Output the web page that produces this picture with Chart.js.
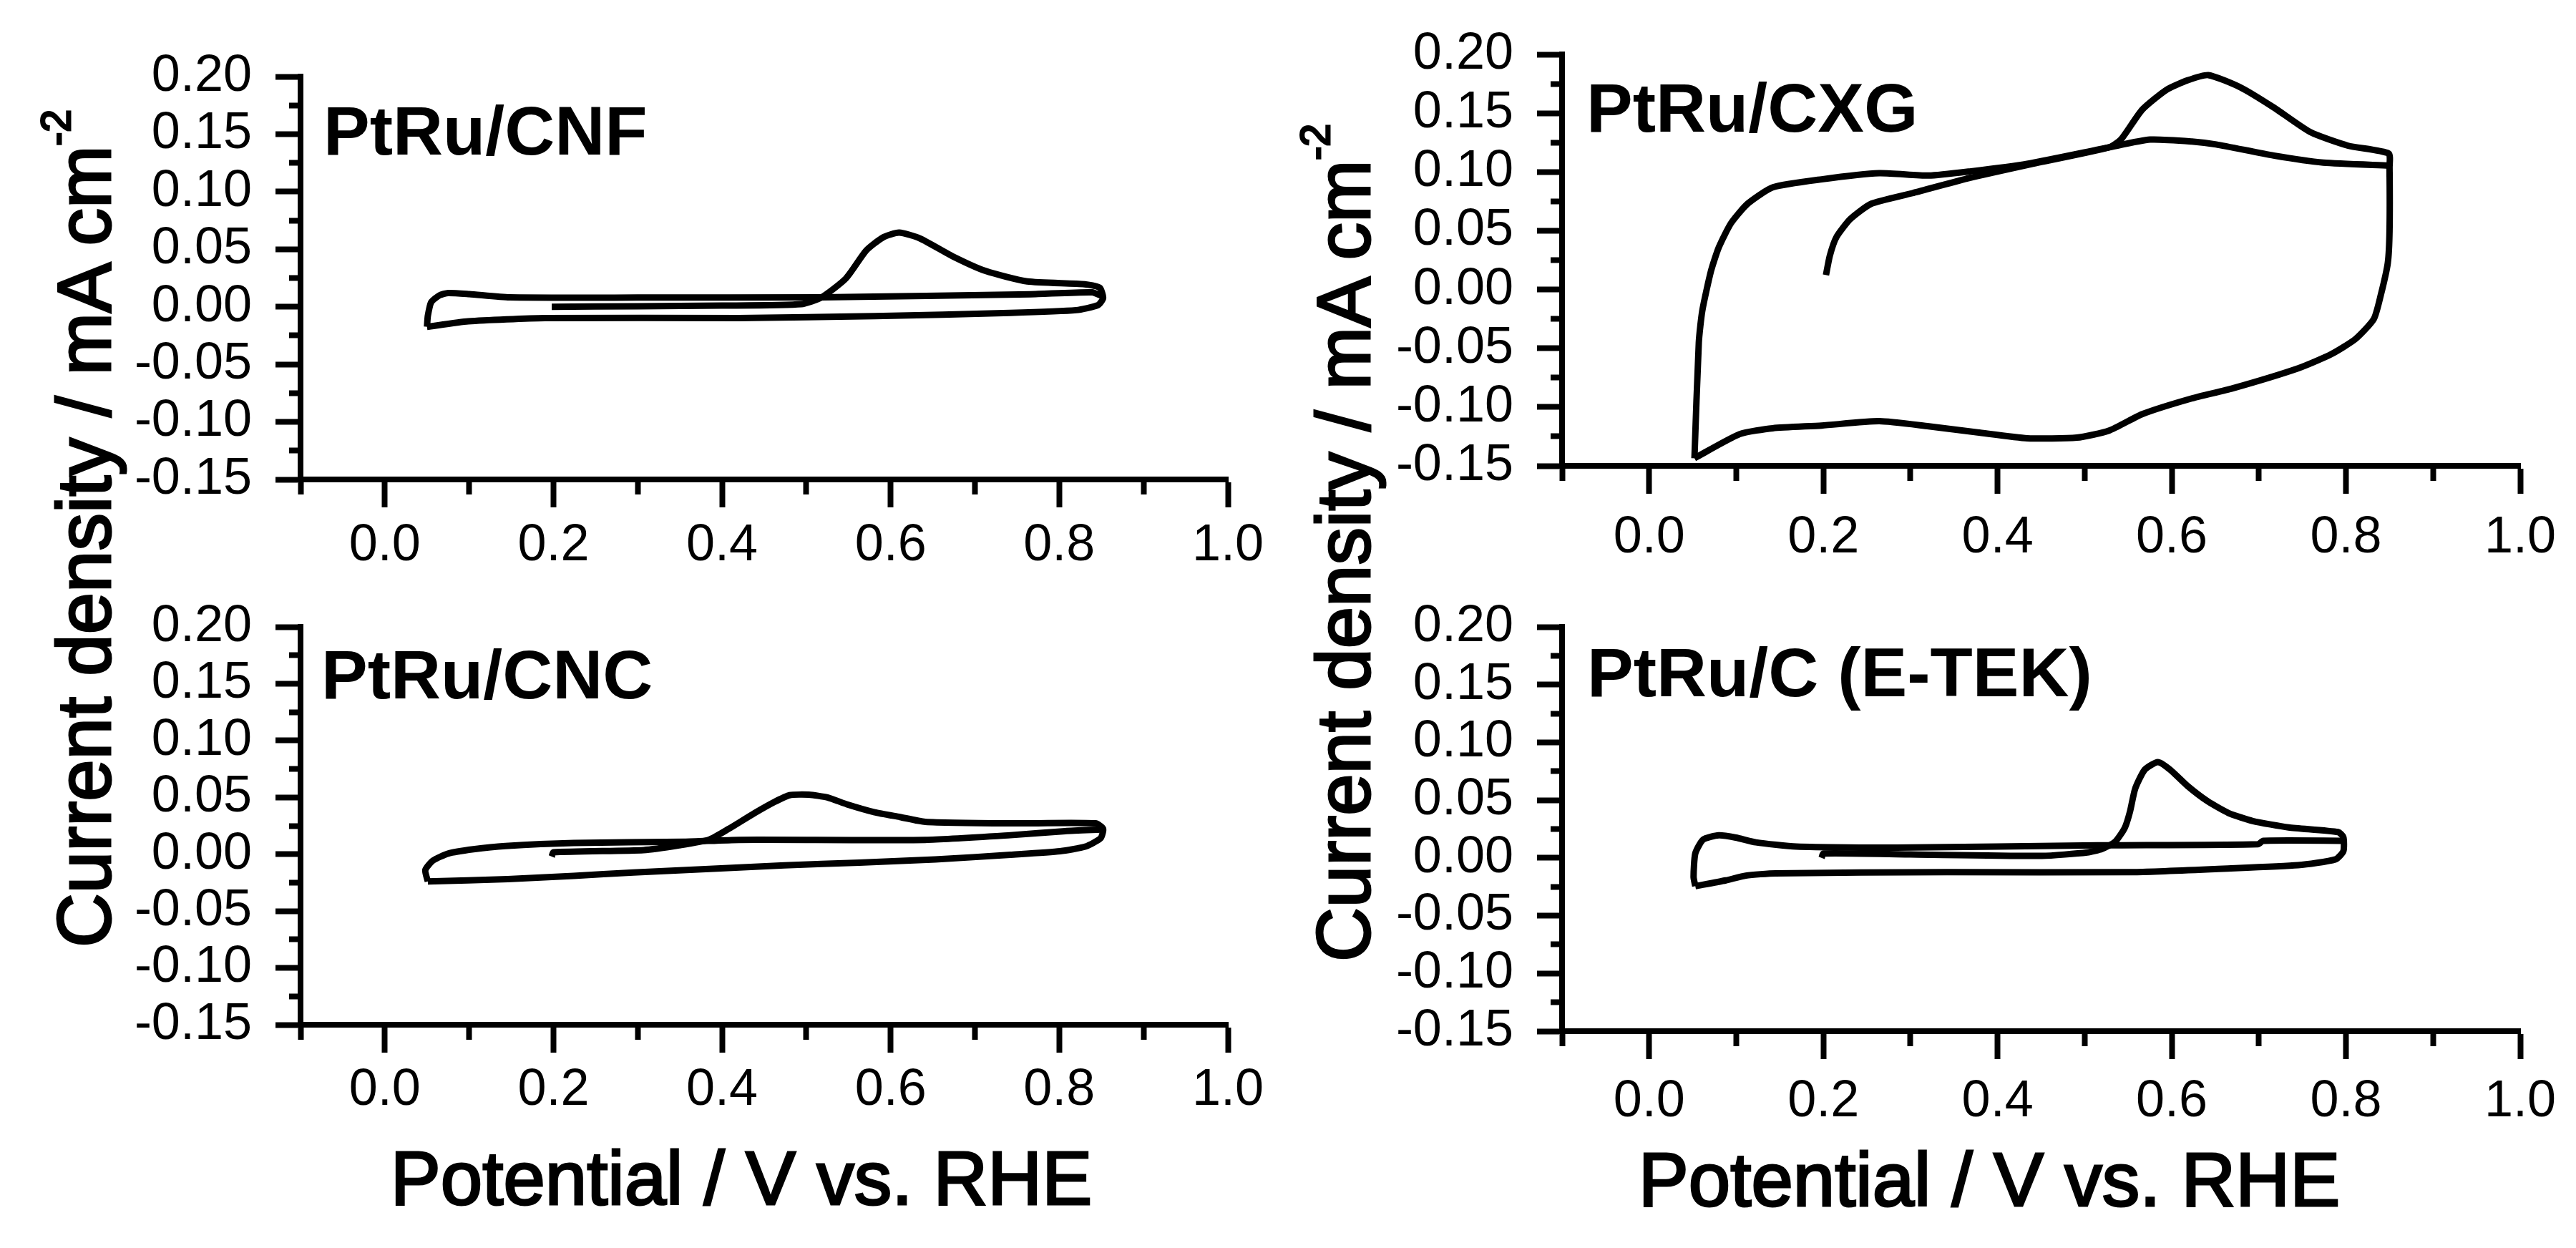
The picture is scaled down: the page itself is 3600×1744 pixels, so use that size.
<!DOCTYPE html>
<html>
<head>
<meta charset="utf-8">
<title>CO stripping voltammograms</title>
<script src="https://cdn.jsdelivr.net/npm/chart.js@4.4.1/dist/chart.umd.min.js"></script>
<style>
  html, body { margin: 0; padding: 0; background: #fff; }
  #page { position: relative; width: 3600px; height: 1744px; overflow: hidden;
          font-family: "Liberation Sans", Arial, sans-serif; color: #000; }
  .panel { position: absolute; }
  .tag { position: absolute; font-weight: bold; font-size: 97px; line-height: 1; white-space: nowrap; }
  .ylab { position: absolute; font-size: 105px; line-height: 1; white-space: nowrap;
          transform-origin: 0 0; transform: rotate(-90deg); -webkit-text-stroke: 3px #000; }
  .ylab .sup { position: relative; top: -56px; font-size: 57px; }
  .xlab { position: absolute; width: 2000px; text-align: center; font-size: 105px; line-height: 1;
          white-space: nowrap; -webkit-text-stroke: 3px #000; }
</style>
</head>
<body>
<div id="page">
  <div class="panel" id="boxCNF" style="left:0px;top:0px;width:1800px;height:840px"><canvas id="cnf"></canvas></div>
  <div class="panel" id="boxCNC" style="left:0px;top:800px;width:1800px;height:944px"><canvas id="cnc"></canvas></div>
  <div class="panel" id="boxCXG" style="left:1800px;top:0px;width:1800px;height:840px"><canvas id="cxg"></canvas></div>
  <div class="panel" id="boxETEK" style="left:1800px;top:800px;width:1800px;height:944px"><canvas id="etek"></canvas></div>

  <div class="tag" style="left:452px;top:134px">PtRu/CNF</div>
  <div class="tag" style="left:449px;top:894px">PtRu/CNC</div>
  <div class="tag" style="left:2217px;top:102px">PtRu/CXG</div>
  <div class="tag" style="left:2218px;top:891px">PtRu/C (E-TEK)</div>

  <div class="ylab" style="left:65px;top:1324px">Current density / mA cm<span class="sup">-2</span></div>
  <div class="ylab" style="left:1825px;top:1344px">Current density / mA cm<span class="sup">-2</span></div>
  <div class="xlab" style="left:36px;top:1594px">Potential / V vs. RHE</div>
  <div class="xlab" style="left:1780px;top:1596px">Potential / V vs. RHE</div>
</div>

<script>
// ---- data (potential in V vs. RHE, current in mA cm-2) ----
// scan 1 = first sweep with the CO stripping peak, then the cathodic return
// scan 2 = second anodic sweep (CO already oxidised)

const cnfScan1V = [0.198, 0.30, 0.40, 0.494, 0.518, 0.547, 0.571, 0.591, 0.610, 0.635, 0.674, 0.713, 0.762, 0.830, 0.848, 0.852, 0.846, 0.820, 0.742, 0.581, 0.420, 0.190, 0.099, 0.050];
const cnfScan1I = [0.000, 0.0005, 0.001, 0.0023, 0.0082, 0.0247, 0.0489, 0.0603, 0.0645, 0.0593, 0.0437, 0.031, 0.022, 0.0196, 0.0165, 0.0075, 0.0015, -0.0029, -0.0053, -0.0081, -0.0098, -0.0098, -0.0126, -0.0174];
const cnfScan2V = [0.050, 0.051, 0.055, 0.065, 0.075, 0.100, 0.148, 0.300, 0.518, 0.766, 0.839, 0.851];
const cnfScan2I = [-0.0174, -0.008, 0.004, 0.010, 0.012, 0.011, 0.0082, 0.008, 0.0082, 0.0109, 0.0126, 0.0092];

const cncScan1V = [0.198, 0.200, 0.307, 0.349, 0.385, 0.408, 0.438, 0.462, 0.480, 0.503, 0.525, 0.548, 0.581, 0.611, 0.641, 0.742, 0.843, 0.852, 0.849, 0.831, 0.801, 0.742, 0.653, 0.563, 0.474, 0.385, 0.295, 0.224, 0.146, 0.051];
const cncScan1I = [-0.002, 0.0017, 0.0037, 0.0079, 0.013, 0.0224, 0.036, 0.046, 0.052, 0.0524, 0.050, 0.044, 0.037, 0.0328, 0.0286, 0.0272, 0.0272, 0.0224, 0.0141, 0.0068, 0.0027, -0.0004, -0.0046, -0.0073, -0.0098, -0.0129, -0.016, -0.019, -0.0218, -0.0239];
const cncScan2V = [0.051, 0.048, 0.057, 0.075, 0.105, 0.143, 0.224, 0.355, 0.420, 0.641, 0.742, 0.807, 0.849];
const cncScan2I = [-0.0239, -0.0139, -0.0056, 0.0006, 0.0044, 0.0073, 0.010, 0.011, 0.0127, 0.0127, 0.0168, 0.0204, 0.0217];

const cxgScan1V = [0.203, 0.2075, 0.215, 0.231, 0.255, 0.302, 0.368, 0.434, 0.528, 0.542, 0.566, 0.594, 0.618, 0.642, 0.679, 0.717, 0.759, 0.802, 0.849, 0.850, 0.850, 0.848, 0.840, 0.832, 0.811, 0.783, 0.745, 0.670, 0.623, 0.566, 0.528, 0.491, 0.434, 0.377, 0.321, 0.264, 0.198, 0.142, 0.104, 0.052];
const cxgScan1I = [0.0124, 0.029, 0.0446, 0.060, 0.073, 0.082, 0.095, 0.106, 0.121, 0.128, 0.153, 0.170, 0.178, 0.1825, 0.172, 0.155, 0.134, 0.1225, 0.1158, 0.104, 0.0497, 0.0226, -0.0046, -0.025, -0.042, -0.055, -0.067, -0.084, -0.0926, -0.106, -0.120, -0.126, -0.1265, -0.1215, -0.1164, -0.112, -0.1157, -0.118, -0.123, -0.1435];
const cxgScan2V = [0.052, 0.057, 0.061, 0.071, 0.080, 0.094, 0.113, 0.142, 0.198, 0.264, 0.321, 0.368, 0.434, 0.528, 0.575, 0.623, 0.651, 0.717, 0.774, 0.849];
const cxgScan2I = [-0.1435, -0.045, -0.018, 0.0158, 0.036, 0.0565, 0.073, 0.087, 0.0938, 0.099, 0.097, 0.1005, 0.107, 0.121, 0.1276, 0.126, 0.1235, 0.114, 0.108, 0.1056];

const etekScan1V = [0.198, 0.200, 0.300, 0.451, 0.503, 0.520, 0.535, 0.546, 0.552, 0.558, 0.569, 0.584, 0.598, 0.618, 0.641, 0.665, 0.693, 0.734, 0.791, 0.797, 0.797, 0.788, 0.745, 0.659, 0.555, 0.342, 0.145, 0.111, 0.088, 0.053];
const etekScan1I = [0.000, 0.0038, 0.003, 0.0018, 0.0048, 0.0079, 0.014, 0.026, 0.040, 0.060, 0.0765, 0.083, 0.0765, 0.0624, 0.0492, 0.039, 0.032, 0.0265, 0.0224, 0.018, 0.0059, -0.0012, -0.0063, -0.0093, -0.0123, -0.0123, -0.0133, -0.0153, -0.0194, -0.0244];
const etekScan2V = [0.053, 0.051, 0.053, 0.062, 0.080, 0.0995, 0.1225, 0.169, 0.284, 0.515, 0.699, 0.705, 0.797];
const etekScan2I = [-0.0244, -0.0164, 0.004, 0.0159, 0.0196, 0.0176, 0.0135, 0.0099, 0.0089, 0.0109, 0.0119, 0.0149, 0.0149];

// axis ranges and tick steps
const xRange = [-0.1, 1.0];
const yRange = [-0.15, 0.20];
const xStep = 0.1;   // labelled every 0.2
const yStep = 0.025; // labelled every 0.05

// ---- layout of each plot box (page pixels) ----
const panels = [
  { canvas: 'cnf',  box: 'boxCNF',  scans: [[cnfScan1V, cnfScan1I], [cnfScan2V, cnfScan2I]],
    area: { left: 420, top: 107, right: 1716, bottom: 670 }, xPad: 11 },
  { canvas: 'cnc',  box: 'boxCNC',  scans: [[cncScan1V, cncScan1I], [cncScan2V, cncScan2I]],
    area: { left: 420, top: 870, right: 1716, bottom: 1432 }, xPad: 10 },
  { canvas: 'cxg',  box: 'boxCXG',  scans: [[cxgScan1V, cxgScan1I], [cxgScan2V, cxgScan2I]],
    area: { left: 2183, top: 76, right: 3522, bottom: 651 }, xPad: 19 },
  { canvas: 'etek', box: 'boxETEK', scans: [[etekScan1V, etekScan1I], [etekScan2V, etekScan2I]],
    area: { left: 2183, top: 863, right: 3522, bottom: 1441 }, xPad: 17 }
];

const tickFont = { family: '"Liberation Sans", Arial, sans-serif', size: 72, weight: 'normal' };

function isMajorX(v) { return Math.round(v * 10) % 2 === 0; }
function isMajorY(v) { return Math.round(v * 1000) % 50 === 0; }

panels.forEach(function(p) {
  const box = document.getElementById(p.box);
  const bx = box.offsetLeft, by = box.offsetTop;
  const bw = box.offsetWidth, bh = box.offsetHeight;

  const datasets = p.scans.map(function(s, k) {
    return {
      label: 'scan ' + (k + 1),
      data: s[0].map((v, i) => ({ x: v, y: s[1][i] })),
      showLine: true,
      borderColor: '#000',
      borderWidth: 9,
      pointRadius: 0,
      tension: 0.2,
      fill: false
    };
  });

  new Chart(document.getElementById(p.canvas).getContext('2d'), {
    type: 'scatter',
    data: { datasets: datasets },
    options: {
      responsive: true,
      maintainAspectRatio: false,
      animation: false,
      layout: { padding: { left: 0, top: p.area.top - by, right: bx + bw - p.area.right, bottom: 0 } },
      plugins: { legend: { display: false }, tooltip: { enabled: false } },
      scales: {
        x: {
          type: 'linear',
          min: xRange[0], max: xRange[1],
          ticks: {
            stepSize: xStep, autoSkip: false, maxRotation: 0, padding: p.xPad,
            color: '#000', font: tickFont,
            callback: v => isMajorX(v) ? v.toFixed(1) : ''
          },
          grid: {
            display: true, drawOnChartArea: false, tickLength: 39, tickWidth: 8, tickColor: '#000',
            // short minor ticks: only the part next to the axis is drawn
            tickBorderDash: c => isMajorX(c.tick.value) ? [] : [17, 200]
          },
          border: { display: true, width: 8, color: '#000' },
          afterFit: s => { s.height = by + bh - p.area.bottom; }
        },
        y: {
          type: 'linear',
          min: yRange[0], max: yRange[1],
          ticks: {
            stepSize: yStep, autoSkip: false, padding: 33,
            color: '#000', font: tickFont,
            callback: v => isMajorY(v) ? v.toFixed(2) : ''
          },
          grid: {
            display: true, drawOnChartArea: false, tickLength: 35, tickWidth: 8, tickColor: '#000',
            // left ticks are drawn from the outer end inwards: skip the outer part
            tickBorderDash: c => isMajorY(c.tick.value) ? [] : [0, 19, 12, 200]
          },
          border: { display: true, width: 8, color: '#000' },
          afterFit: s => { s.width = p.area.left - bx; }
        }
      }
    }
  });
});
</script>
</body>
</html>
